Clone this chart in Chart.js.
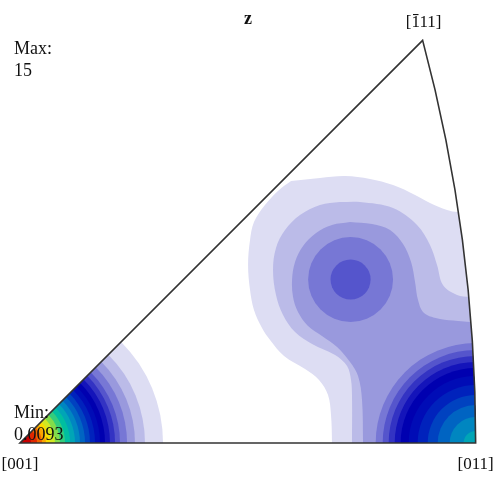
<!DOCTYPE html>
<html>
<head>
<meta charset="utf-8">
<script src="https://cdn.jsdelivr.net/npm/chart.js@4.4.1/dist/chart.umd.min.js"></script>
<style>
  html, body { margin: 0; padding: 0; background: #fff; }
</style>
</head>
<body>
<canvas id="ipf" width="496" height="477"></canvas>
<script>
// inverse pole figure, cubic sector, stereographic coordinates

// corners of the fundamental sector
const corner001 = [0, 0];
const corner011 = [0.4142, 0];
const corner111 = [0.3660, 0.3660];

// colour of each contour level (level 1 = lowest)
const levelColors = [
  '#ddddf3', '#bbbbe8', '#9999dd', '#7777d5', '#5555cc', '#3333c3', '#1414ba',
  '#0000b0', '#000cb6', '#0022bc', '#0042c0', '#0064c2', '#0086c0', '#00a5b6',
  '#00bea0', '#32cd7d', '#82dc4b', '#d2e823', '#fadc00', '#faa500', '#f06400',
  '#e12800', '#c80000'
];

// contour radii around [001], levels 1..23
const radii001 = [0.1300, 0.1136, 0.1045, 0.0973, 0.0909, 0.0864, 0.0818, 0.0773,
  0.0727, 0.0682, 0.0636, 0.0591, 0.0545, 0.0500, 0.0455, 0.0409, 0.0364, 0.0318,
  0.0273, 0.0236, 0.0200, 0.0155, 0.0100];

// contour radii around [011], levels 4..14
const radii011 = [0.0909, 0.0845, 0.0791, 0.0736, 0.0682, 0.0609, 0.0527, 0.0436,
  0.0345, 0.0236, 0.0109];

// inner peak, levels 4..5
const midCenter = [0.3005, 0.1486];
const radiiMid = [0.0386, 0.0182];

// outer contour lines, levels 1..3
const level1Shape = [
  [0.2464, 0.2382], [0.2727, 0.2409], [0.2955, 0.2427], [0.3182, 0.2400], [0.3391, 0.2345],
  [0.3591, 0.2255], [0.3727, 0.2182], [0.3882, 0.2118], [0.3982, 0.2100], [0.4364, 0.2100],
  [0.4364, -0.030], [0.2836, -0.030], [0.2836, 0], [0.2827, 0.0255], [0.2800, 0.0436],
  [0.2718, 0.0573], [0.2591, 0.0673], [0.2400, 0.0791], [0.2273, 0.0936], [0.2200, 0.1045],
  [0.2127, 0.1209], [0.2091, 0.1391], [0.2073, 0.1618], [0.2091, 0.1845], [0.2127, 0.2009],
  [0.2227, 0.2164], [0.2355, 0.2300], [0.2464, 0.2382]
];
const level2Shape = [
  [0.2909, 0.2191], [0.3091, 0.2191], [0.3391, 0.2136], [0.3609, 0.1982], [0.3727, 0.1800],
  [0.3791, 0.1618], [0.3845, 0.1436], [0.3973, 0.1345], [0.4091, 0.1327], [0.4364, 0.1327],
  [0.4364, -0.030], [0.3018, -0.030], [0.3018, 0], [0.3018, 0.0418], [0.3009, 0.0573],
  [0.2973, 0.0700], [0.2864, 0.0800], [0.2655, 0.0900], [0.2500, 0.1009], [0.2391, 0.1164],
  [0.2327, 0.1345], [0.2300, 0.1573], [0.2327, 0.1773], [0.2409, 0.1936], [0.2545, 0.2073],
  [0.2727, 0.2164], [0.2909, 0.2191]
];
const level3Shape = [
  [0.3000, 0.2009], [0.3200, 0.1991], [0.3364, 0.1936], [0.3482, 0.1809], [0.3555, 0.1645],
  [0.3591, 0.1464], [0.3618, 0.1300], [0.3673, 0.1182], [0.3818, 0.1127], [0.3982, 0.1109],
  [0.4091, 0.1100], [0.4364, 0.1100], [0.4364, -0.030], [0.3118, -0.030], [0.3118, 0],
  [0.3109, 0.0391], [0.3073, 0.0609], [0.3000, 0.0736], [0.2882, 0.0873], [0.2745, 0.0973],
  [0.2618, 0.1064], [0.2527, 0.1191], [0.2482, 0.1327], [0.2473, 0.1482], [0.2500, 0.1645],
  [0.2573, 0.1791], [0.2691, 0.1909], [0.2836, 0.1982], [0.3000, 0.2009]
];

// axis window (stereographic units)
const xRange = [-0.0182, 0.4327];
const yRange = [-0.0309, 0.4027];

function unitsToPx(chart, r) {
  const s = chart.scales.x;
  const d = Math.abs(s.getPixelForValue(r) - s.getPixelForValue(0));
  return isFinite(d) ? d : 0;
}

function shapeDataset(points, level) {
  return {
    type: 'scatter',
    showLine: true,
    data: points.map(p => ({x: p[0], y: p[1]})),
    fill: 'shape',
    backgroundColor: levelColors[level - 1],
    borderColor: 'rgba(0,0,0,0)',
    borderWidth: 0,
    pointRadius: 0,
    tension: 0.35
  };
}

function ringDataset(center, radii, firstLevel) {
  return {
    type: 'scatter',
    data: radii.map(() => ({x: center[0], y: center[1]})),
    pointRadius: c => unitsToPx(c.chart, radii[c.dataIndex]),
    pointBackgroundColor: radii.map((r, i) => levelColors[firstLevel - 1 + i]),
    pointBorderColor: 'rgba(0,0,0,0)',
    pointBorderWidth: 0
  };
}

function sectorPath(chart, ctx) {
  const xs = chart.scales.x, ys = chart.scales.y;
  const cx = xs.getPixelForValue(-1), cy = ys.getPixelForValue(0);
  const R = xs.getPixelForValue(corner011[0]) - cx;
  const apex = Math.atan2(corner111[1], corner111[0] + 1);
  ctx.beginPath();
  ctx.moveTo(xs.getPixelForValue(corner001[0]), ys.getPixelForValue(corner001[1]));
  ctx.lineTo(xs.getPixelForValue(corner011[0]), ys.getPixelForValue(corner011[1]));
  ctx.arc(cx, cy, R, 0, -apex, true);
  ctx.closePath();
}

const sectorPlugin = {
  id: 'sector',
  beforeDatasetsDraw(chart) {
    const ctx = chart.ctx;
    ctx.save();
    sectorPath(chart, ctx);
    ctx.clip();
  },
  afterDatasetsDraw(chart) {
    const ctx = chart.ctx;
    ctx.restore();
    ctx.save();
    sectorPath(chart, ctx);
    ctx.lineWidth = 1.6;
    ctx.strokeStyle = '#333';
    ctx.lineJoin = 'miter';
    ctx.stroke();
    ctx.restore();
  },
  afterDraw(chart) {
    const ctx = chart.ctx;
    const xs = chart.scales.x;
    ctx.save();
    ctx.fillStyle = '#111';
    ctx.textBaseline = 'alphabetic';
    ctx.font = '18px "Liberation Serif", serif';
    ctx.textAlign = 'left';
    ctx.fillText('Max:', 14, 54);
    ctx.fillText('15', 14, 76);
    ctx.fillText('Min:', 14, 418);
    ctx.fillText('0.0093', 14, 440);

    ctx.font = '17px "Liberation Serif", serif';
    ctx.textAlign = 'center';
    ctx.fillText('[001]', xs.getPixelForValue(corner001[0]), 469);
    ctx.fillText('[011]', xs.getPixelForValue(corner011[0]), 469);

    const ax = xs.getPixelForValue(corner111[0]) + 1;
    ctx.fillText('[111]', ax, 27);
    const w = ctx.measureText('[111]').width;
    const x0 = ax - w / 2 + ctx.measureText('[').width;
    const w1 = ctx.measureText('1').width;
    ctx.fillRect(x0 + 1.5, 14, w1 - 3, 1.1);

    ctx.font = 'bold 18px "Liberation Serif", serif';
    ctx.fillText('z', 248, 24);
    ctx.restore();
  }
};

// bottom layer first
const layers = [
  shapeDataset(level1Shape, 1),
  shapeDataset(level2Shape, 2),
  shapeDataset(level3Shape, 3),
  ringDataset(midCenter, radiiMid, 4),
  ringDataset(corner011, radii011, 4),
  ringDataset(corner001, radii001, 1)
];
layers.forEach((d, i) => { d.order = -i; });

new Chart(document.getElementById('ipf').getContext('2d'), {
  type: 'scatter',
  data: { datasets: layers },
  options: {
    responsive: false,
    animation: false,
    events: [],
    layout: { padding: 0, autoPadding: false },
    plugins: { legend: { display: false }, tooltip: { enabled: false } },
    scales: {
      x: { type: 'linear', display: false, bounds: 'data', min: xRange[0], max: xRange[1] },
      y: { type: 'linear', display: false, bounds: 'data', min: yRange[0], max: yRange[1] }
    }
  },
  plugins: [sectorPlugin]
});
</script>
</body>
</html>
